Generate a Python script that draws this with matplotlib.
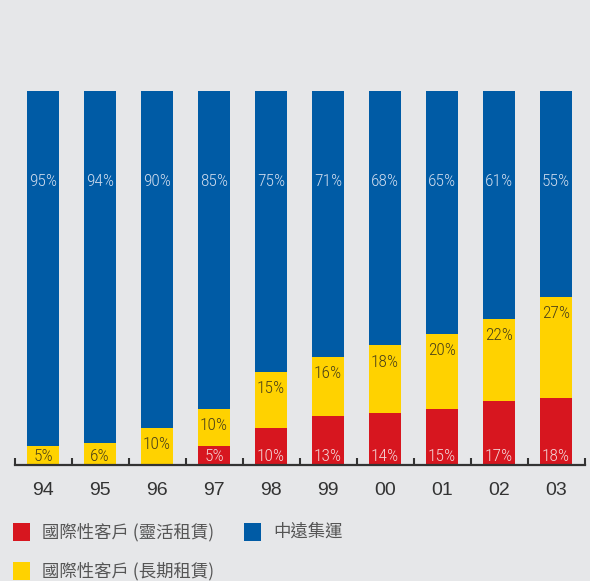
import matplotlib
matplotlib.use("Agg")
import matplotlib.pyplot as plt
import numpy as np
from matplotlib.patches import Rectangle

years = ["94", "95", "96", "97", "98", "99", "00", "01", "02", "03"]
flex = [0, 0, 0, 5, 10, 13, 14, 15, 17, 18]        # 國際性客戶 (靈活租賃)
longterm = [5, 6, 10, 10, 15, 16, 18, 20, 22, 27]  # 國際性客戶 (長期租賃)
cosco = [95, 94, 90, 85, 75, 71, 68, 65, 61, 55]   # 中遠集運

RED = "#d7161f"
YEL = "#ffd200"
BLU = "#005ba5"
BG = "#e6e7e9"

plt.rcParams['font.family'] = ['Noto Sans CJK TC', 'DejaVu Sans']

W, H = 590, 581
fig = plt.figure(figsize=(W / 100, H / 100), dpi=100, facecolor=BG)
ax = fig.add_axes([14.5 / W, (H - 465) / H, 570 / W, 374 / H])
ax.set_facecolor(BG)

x = np.arange(len(years))
bw = 32 / 57
flex_a = np.array(flex)
long_a = np.array(longterm)
cos_a = np.array(cosco)
ax.bar(x, flex_a, bw, color=RED, linewidth=0)
ax.bar(x, long_a, bw, bottom=flex_a, color=YEL, linewidth=0)
ax.bar(x, cos_a, bw, bottom=flex_a + long_a, color=BLU, linewidth=0)

narrow = ['Roboto Condensed', 'Archivo Narrow', 'PT Sans Narrow', 'Open Sans Condensed',
          'Liberation Sans Narrow', 'DejaVu Sans']
lab_font = dict(family=narrow, fontweight='light', fontsize=12.5, ha='center', va='center')
for i in range(len(years)):
    if flex[i] > 0:
        ax.text(x[i], 2.4, f"{flex[i]}%", color="#f3d6d8", **lab_font)
    top = flex[i] + longterm[i]
    ly = max(top - 4.5, flex[i] + 2.4)
    ax.text(x[i], ly, f"{longterm[i]}%", color="#4a4018", **lab_font)
    ax.text(x[i], 75.8, f"{cosco[i]}%", color="#cfdcee", **lab_font)

ax.set_xlim(-0.5, len(years) - 0.5)
ax.set_ylim(0, 100)
for s in ['top', 'right', 'left']:
    ax.spines[s].set_visible(False)
ax.spines['bottom'].set_color('#333333')
ax.spines['bottom'].set_linewidth(1.6)
ax.set_yticks([])
ax.set_xticks(x)
ax.set_xticklabels(years, fontsize=14, color='#333333',
                   family=['Liberation Sans', 'DejaVu Sans'])
ax.tick_params(axis='x', which='major', length=0, pad=12)
ax.set_xticks(np.arange(-0.5, len(years)), minor=True)
ax.tick_params(axis='x', which='minor', direction='in', length=5, width=1.5, color='#333333')

# legend
def leg(xp, yp, color, text):
    fig.patches.append(Rectangle((xp / W, 1 - (yp + 9) / H), 17 / W, 18 / H,
                                 transform=fig.transFigure, color=color, linewidth=0))
    fig.text((xp + 29) / W, 1 - yp / H, text, fontsize=12.5, color='#555555',
             va='center', ha='left')

leg(13, 532, RED, "國際性客戶 (靈活租賃)")
leg(244, 532, BLU, "中遠集運")
leg(13, 571, YEL, "國際性客戶 (長期租賃)")

fig.savefig("out.png", dpi=100, facecolor=BG)
